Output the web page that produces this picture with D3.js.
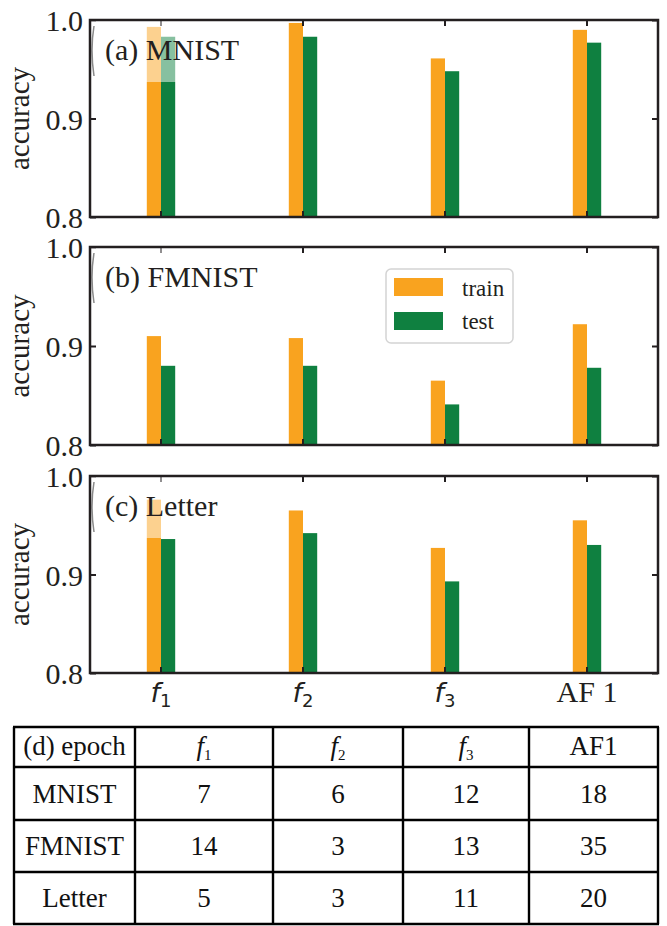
<!DOCTYPE html>
<html lang="en">
<head>
<meta charset="utf-8">
<title>accuracy per activation</title>
<script src="https://cdnjs.cloudflare.com/ajax/libs/d3/7.8.5/d3.min.js"></script>
<style>
  html, body { margin: 0; padding: 0; background: #fff; }
  svg { display: block; }
</style>
</head>
<body>
<svg id="chart" width="667" height="926" font-family="Liberation Serif, DejaVu Serif, serif"></svg>
<script>
// categories on the x axis
var categories = ["f1", "f2", "f3", "AF 1"];
var yTicks = [0.8, 0.9, 1.0];

// accuracy values
var trainMNIST  = [0.993, 0.997, 0.961, 0.990];
var testMNIST   = [0.983, 0.983, 0.948, 0.977];
var trainFMNIST = [0.910, 0.908, 0.865, 0.922];
var testFMNIST  = [0.880, 0.880, 0.841, 0.878];
var trainLetter = [0.976, 0.965, 0.927, 0.955];
var testLetter  = [0.936, 0.942, 0.893, 0.930];

// epoch table
var tableHeader = ["(d) epoch", "f1", "f2", "f3", "AF1"];
var tableRows   = ["MNIST", "FMNIST", "Letter"];
var epochMNIST  = [7, 6, 12, 18];
var epochFMNIST = [14, 3, 13, 35];
var epochLetter = [5, 3, 11, 20];

var orange = "#f9a31f", green = "#0f8040", ink = "#231f20";
var serif = "Liberation Serif, DejaVu Serif, serif";

var svg = d3.select("#chart");
var left = 90, right = 658;

var x = d3.scaleBand().domain(d3.range(categories.length)).range([left, right]);
var barW = x.bandwidth() * 0.1;

var panels = [
  {label: "(a) MNIST",  top: 20,  bottom: 217, train: trainMNIST,  test: testMNIST},
  {label: "(b) FMNIST", top: 247, bottom: 445, train: trainFMNIST, test: testFMNIST},
  {label: "(c) Letter", top: 476, bottom: 673, train: trainLetter, test: testLetter}
];

function subLabel(sel, base, sub, fam, size, subSize, italic) {
  sel.append("tspan").attr("font-family", fam).attr("font-size", size)
    .attr("font-style", italic ? "italic" : null).text(base);
  sel.append("tspan").attr("font-family", fam).attr("font-size", subSize)
    .attr("dy", size * 0.2).text(sub);
}

panels.forEach(function(p, pi) {
  var y = d3.scaleLinear().domain([0.8, 1.0]).range([p.bottom, p.top]);
  var g = svg.append("g");

  g.selectAll("rect.train").data(p.train).enter().append("rect")
    .attr("x", (d, i) => x(i) + x.bandwidth() / 2 - barW)
    .attr("y", d => y(d))
    .attr("width", barW)
    .attr("height", d => p.bottom - y(d))
    .attr("fill", orange);
  g.selectAll("rect.test").data(p.test).enter().append("rect")
    .attr("x", (d, i) => x(i) + x.bandwidth() / 2)
    .attr("y", d => y(d))
    .attr("width", barW)
    .attr("height", d => p.bottom - y(d))
    .attr("fill", green);

  // axes, ticks pointing inward
  var ax = g.append("g").attr("transform", "translate(" + left + ",0)")
    .call(d3.axisLeft(y).tickValues(yTicks).tickSize(-6).tickPadding(7).tickFormat(d3.format(".1f")));
  ax.attr("font-family", serif).attr("font-size", 30);
  ax.selectAll("text").attr("fill", ink).attr("dy", "0.35em");
  g.append("g").attr("transform", "translate(" + right + ",0)")
    .call(d3.axisRight(y).tickValues(yTicks).tickSize(-6).tickFormat(""));
  g.append("g").attr("transform", "translate(0," + p.bottom + ")")
    .call(d3.axisBottom(x).tickSize(-6).tickFormat(""));
  g.append("g").attr("transform", "translate(0," + p.top + ")")
    .call(d3.axisTop(x).tickSize(-6).tickFormat(""));
  g.selectAll(".domain").remove();
  g.selectAll(".tick line").attr("stroke", ink).attr("stroke-width", 2);

  // semi-transparent label box, only its left rounded edge shows
  g.append("rect").attr("x", 88).attr("y", p.top - 2).attr("width", 168).attr("height", 64)
    .attr("rx", 8).attr("fill", "#fff").attr("fill-opacity", 0.5);
  g.append("path")
    .attr("d", "M" + 94 + "," + (p.top + 6) + " Q" + 90 + "," + (p.top + 30) + " " + 94 + "," + (p.top + 56))
    .attr("fill", "none").attr("stroke", "#888").attr("stroke-width", 1.5);
  g.append("text").attr("x", 105).attr("y", p.top + 40).attr("font-size", 30).attr("fill", ink).text(p.label);

  g.append("rect").attr("x", left).attr("y", p.top).attr("width", right - left).attr("height", p.bottom - p.top)
    .attr("fill", "none").attr("stroke", ink).attr("stroke-width", 2.5);

  g.append("text").attr("transform", "translate(29," + (p.top + p.bottom) / 2 + ") rotate(-90)")
    .attr("text-anchor", "middle").attr("font-size", 29).attr("fill", ink).text("accuracy");

  if (pi === 2) {
    categories.forEach(function(c, i) {
      var t = g.append("text").attr("x", x(i) + x.bandwidth() / 2).attr("y", p.bottom + 29)
        .attr("text-anchor", "middle").attr("fill", ink);
      if (c.charAt(0) === "f") subLabel(t, "f", c.slice(1), "DejaVu Sans", 27, 18, true);
      else t.attr("font-size", 30).text(c);
    });
  }

  if (pi === 1) {
    var lg = g.append("g");
    lg.append("rect").attr("x", 386).attr("y", 269).attr("width", 127).attr("height", 74)
      .attr("rx", 5).attr("fill", "#fff").attr("stroke", "#d4d4d4").attr("stroke-width", 1.5);
    [["train", orange], ["test", green]].forEach(function(e, k) {
      lg.append("rect").attr("x", 394).attr("y", 278 + k * 34).attr("width", 49).attr("height", 18).attr("fill", e[1]);
      lg.append("text").attr("x", 462).attr("y", 296 + k * 33).attr("font-size", 23).attr("fill", ink).text(e[0]);
    });
  }
});

// epoch table
var colX = [14, 135, 273, 403, 529, 658];
var rowY = [727, 767, 820, 872, 924];
var tg = svg.append("g");
tg.selectAll("line.h").data(rowY).enter().append("line")
  .attr("x1", colX[0] - 1).attr("x2", colX[colX.length - 1] + 1).attr("y1", d => d).attr("y2", d => d)
  .attr("stroke", "#000").attr("stroke-width", 2.4);
tg.selectAll("line.v").data(colX).enter().append("line")
  .attr("y1", rowY[0]).attr("y2", rowY[rowY.length - 1]).attr("x1", d => d).attr("x2", d => d)
  .attr("stroke", "#000").attr("stroke-width", 2.4);

function cellX(c) { return (colX[c] + colX[c + 1]) / 2; }
function cellY(r) { return (rowY[r] + rowY[r + 1]) / 2; }

tableHeader.forEach(function(h, c) {
  var t = tg.append("text").attr("x", cellX(c)).attr("y", cellY(0) + 8).attr("text-anchor", "middle").attr("fill", "#111");
  if (/^f\d$/.test(h)) subLabel(t, "f", h.slice(1), serif, 27, 15, true);
  else t.attr("font-size", 27).text(h);
});
[epochMNIST, epochFMNIST, epochLetter].forEach(function(vals, r) {
  tg.append("text").attr("x", cellX(0)).attr("y", cellY(r + 1) + 9).attr("text-anchor", "middle")
    .attr("font-size", 27).attr("fill", "#111").text(tableRows[r]);
  vals.forEach(function(v, c) {
    tg.append("text").attr("x", cellX(c + 1)).attr("y", cellY(r + 1) + 9).attr("text-anchor", "middle")
      .attr("font-size", 27).attr("fill", "#111").text(v);
  });
});
</script>
</body>
</html>
